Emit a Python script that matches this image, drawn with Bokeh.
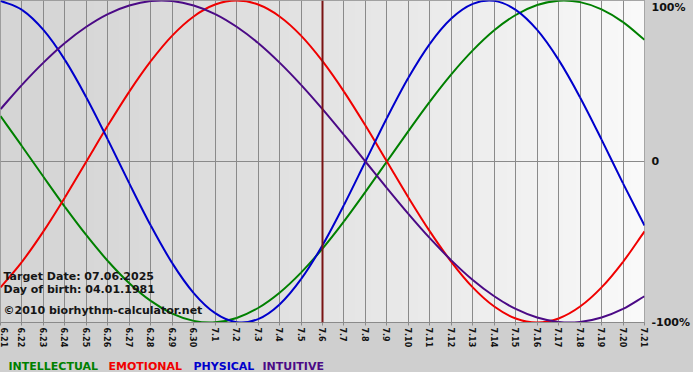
import math
import numpy as np
from bokeh.plotting import figure
from bokeh.layouts import column
from bokeh.models import Range1d, FixedTicker, Span, Label, LinearAxis, ColumnDataSource
from bokeh.core.properties import value
from bokeh.embed import file_html
from bokeh.resources import INLINE

# ---- data ----
DATES = ["6.21", "6.22", "6.23", "6.24", "6.25", "6.26", "6.27", "6.28", "6.29", "6.30",
         "7.1", "7.2", "7.3", "7.4", "7.5", "7.6", "7.7", "7.8", "7.9", "7.10",
         "7.11", "7.12", "7.13", "7.14", "7.15", "7.16", "7.17", "7.18", "7.19", "7.20", "7.21"]
DAYS = list(range(len(DATES)))

INTELLECTUAL = [0.282, 0.095, -0.095, -0.282, -0.458, -0.618, -0.756, -0.866, -0.945, -0.990,
                -0.999, -0.972, -0.910, -0.815, -0.690, -0.541, -0.372, -0.189, 0.000, 0.189,
                0.372, 0.541, 0.690, 0.815, 0.910, 0.972, 0.999, 0.990, 0.945, 0.866, 0.756]
EMOTIONAL = [-0.782, -0.623, -0.434, -0.223, 0.000, 0.223, 0.434, 0.623, 0.782, 0.901,
             0.975, 1.000, 0.975, 0.901, 0.782, 0.623, 0.434, 0.223, 0.000, -0.223,
             -0.434, -0.623, -0.782, -0.901, -0.975, -1.000, -0.975, -0.901, -0.782, -0.623, -0.434]
PHYSICAL = [0.998, 0.942, 0.817, 0.631, 0.398, 0.136, -0.136, -0.398, -0.631, -0.817,
            -0.942, -0.998, -0.979, -0.888, -0.731, -0.520, -0.270, 0.000, 0.270, 0.520,
            0.731, 0.888, 0.979, 0.998, 0.942, 0.817, 0.631, 0.398, 0.136, -0.136, -0.398]
INTUITIVE = [0.325, 0.476, 0.614, 0.736, 0.837, 0.916, 0.969, 0.997, 0.997, 0.969,
             0.916, 0.837, 0.736, 0.614, 0.476, 0.325, 0.165, 0.000, -0.165, -0.325,
             -0.476, -0.614, -0.736, -0.837, -0.916, -0.969, -0.997, -0.997, -0.969, -0.916, -0.837]

TARGET_INDEX = 15
INFO_LINES = ["Target Date: 07.06.2025", "Day of birth: 04.01.1981", "\u00a92010 biorhythm-calculator.net"]
SERIES_NAMES = ["INTELLECTUAL", "EMOTIONAL", "PHYSICAL", "INTUITIVE"]
SERIES_COLORS = ["#008000", "#f00000", "#0000cc", "#4b0a86"]
Y_TICK_LABELS = ["100%", "0", "-100%"]

FONT = "DejaVu Sans"
GRID = "#8a8a8a"
OUTER = "#cfcfcf"

p = figure(frame_width=644, frame_height=322,
           x_range=Range1d(0, 30), y_range=Range1d(-1.0, 1.0),
           output_backend="svg", toolbar_location=None,
           y_axis_location=None,
           min_border_left=0, min_border_top=0, min_border_right=48, min_border_bottom=30)

p.border_fill_color = OUTER
p.background_fill_color = "#e6e6e6"
p.outline_line_color = GRID
p.outline_line_width = 1
p.ygrid.grid_line_color = None

# background gradient (styling only)
ncol = 400
t = np.linspace(0.0, 1.0, ncol)
g = (213 + (250 - 213) * t ** 1.3).astype(np.uint32)
img = np.empty((1, ncol), dtype=np.uint32)
view = img.view(dtype=np.uint8).reshape((1, ncol, 4))
view[0, :, 0] = g
view[0, :, 1] = g
view[0, :, 2] = g
view[0, :, 3] = 255
bg = p.image_rgba(image=[img], x=0, y=-1.0, dw=30, dh=2.0)
bg.level = "image"

# x axis
ticker = FixedTicker(ticks=DAYS)
p.xaxis.ticker = ticker
p.xaxis.major_label_overrides = {d: s for d, s in zip(DAYS, DATES)}
p.xaxis.major_label_orientation = -math.pi / 2
p.xaxis.major_label_text_font = FONT
p.xaxis.major_label_text_font_size = "8px"
p.xaxis.major_label_text_font_style = "bold"
p.xaxis.major_label_text_color = "#111111"
p.xaxis.major_label_standoff = 2
p.xaxis.major_tick_out = 3
p.xaxis.major_tick_in = 0
p.xaxis.minor_tick_out = 0
p.xaxis.minor_tick_in = 0
p.xaxis.axis_line_color = GRID
p.xaxis.major_tick_line_color = GRID

p.xgrid.ticker = ticker
p.xgrid.grid_line_color = GRID
p.xgrid.grid_line_width = 1

p.add_layout(Span(location=0, dimension="width", line_color=GRID, line_width=1, level="underlay"))

# right-hand value labels
ry = LinearAxis(ticker=FixedTicker(ticks=[0.957, 0.0, -1.0]),
                major_label_overrides={0.957: Y_TICK_LABELS[0], 0.0: Y_TICK_LABELS[1], -1.0: Y_TICK_LABELS[2]},
                major_tick_out=0, major_tick_in=0, minor_tick_out=0, minor_tick_in=0,
                axis_line_color=None, major_label_standoff=7,
                major_label_text_font=FONT, major_label_text_font_size="11px",
                major_label_text_font_style="bold", major_label_text_color="#111111")
p.add_layout(ry, "right")


# smooth curves through the daily values (Catmull-Rom rendered as cubic Beziers)
def bezier_source(xs, ys):
    n = len(xs)
    ext_x = [2 * xs[0] - xs[1]] + list(xs) + [2 * xs[-1] - xs[-2]]
    ext_y = [2 * ys[0] - ys[1]] + list(ys) + [2 * ys[-1] - ys[-2]]
    d = dict(x0=[], y0=[], x1=[], y1=[], cx0=[], cy0=[], cx1=[], cy1=[])
    for i in range(n - 1):
        a, b, c, e = i, i + 1, i + 2, i + 3
        d["x0"].append(ext_x[b]); d["y0"].append(ext_y[b])
        d["x1"].append(ext_x[c]); d["y1"].append(ext_y[c])
        d["cx0"].append(ext_x[b] + (ext_x[c] - ext_x[a]) / 6.0)
        d["cy0"].append(ext_y[b] + (ext_y[c] - ext_y[a]) / 6.0)
        d["cx1"].append(ext_x[c] - (ext_x[e] - ext_x[b]) / 6.0)
        d["cy1"].append(ext_y[c] - (ext_y[e] - ext_y[b]) / 6.0)
    return ColumnDataSource(d)


for vals, col in zip([INTELLECTUAL, EMOTIONAL, PHYSICAL, INTUITIVE], SERIES_COLORS):
    p.bezier(x0="x0", y0="y0", x1="x1", y1="y1", cx0="cx0", cy0="cy0", cx1="cx1", cy1="cy1",
             source=bezier_source(DAYS, vals), line_color=col, line_width=2)

# target day line
p.add_layout(Span(location=DAYS[TARGET_INDEX], dimension="height", line_color="#7a1414", line_width=2))

# info text
for txt, off in zip(INFO_LINES, [46, 33, 12]):
    p.add_layout(Label(x=0, y=-1.0, x_offset=3, y_offset=off, text=txt,
                       text_font=FONT, text_font_size="11px", text_font_style="bold",
                       text_color="#151515", text_baseline="alphabetic"))

# legend row (separate strip below the chart)
leg = figure(frame_width=692, frame_height=20, x_range=Range1d(0, 692), y_range=Range1d(20, 0),
             output_backend="svg", toolbar_location=None,
             x_axis_location=None, y_axis_location=None,
             min_border_left=0, min_border_right=0, min_border_top=0, min_border_bottom=0)
leg.border_fill_color = OUTER
leg.background_fill_color = OUTER
leg.outline_line_color = None
leg.xgrid.visible = False
leg.ygrid.visible = False
leg_src = ColumnDataSource(dict(x=[8, 108, 193, 262], y=[14, 14, 14, 14],
                                text=SERIES_NAMES, color=SERIES_COLORS))
leg.text(x="x", y="y", text="text", text_color="color", source=leg_src,
         text_font=value(FONT), text_font_size="11px", text_font_style="bold",
         text_baseline="alphabetic")

layout = column(p, leg, spacing=0, styles={"background-color": OUTER})
open("out.html", "w").write(file_html(layout, INLINE))
